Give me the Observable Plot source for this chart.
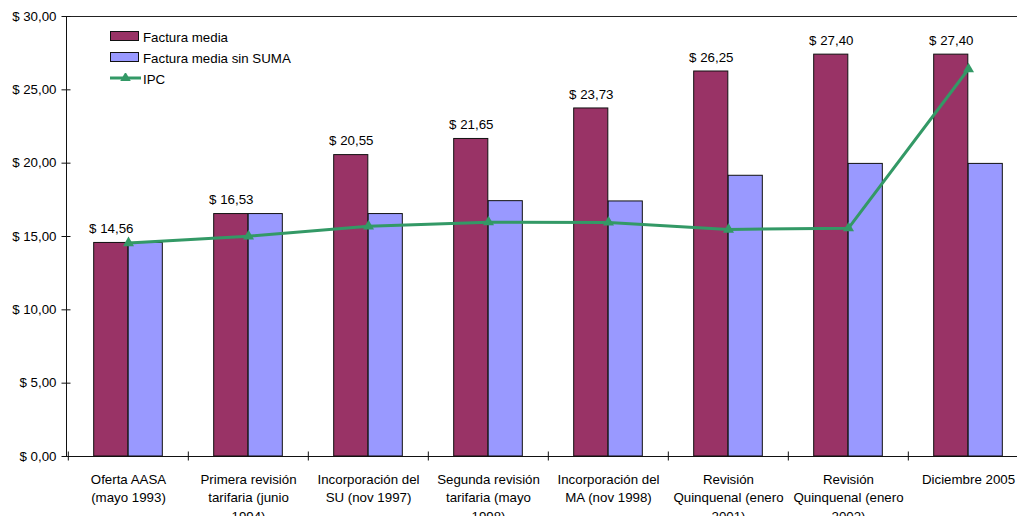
<!DOCTYPE html>
<html><head><meta charset="utf-8">
<script src="https://cdn.jsdelivr.net/npm/d3@7"></script>
<script src="https://cdn.jsdelivr.net/npm/@observablehq/plot@0.6"></script>
<style>
body{margin:0;background:#fff;font-family:"Liberation Sans",Arial,sans-serif;}
#chart{position:relative;width:1017px;height:516px;overflow:hidden}
.legend{position:absolute;left:110px;top:27px;font-size:13.3px;color:#000}
.row{display:flex;align-items:center;height:21px;white-space:nowrap}
.sw{width:27px;height:8px;border:1px solid #111;margin-right:4px;position:relative;top:-2px}
.ln{width:31px;height:10px;margin-right:2px;position:relative;top:-2px}
</style></head><body><div id="chart"></div>
<script>
const categories = [
  "Oferta AASA (mayo 1993)",
  "Primera revisión tarifaria (junio 1994)",
  "Incorporación del SU (nov 1997)",
  "Segunda revisión tarifaria (mayo 1998)",
  "Incorporación del MA (nov 1998)",
  "Revisión Quinquenal (enero 2001)",
  "Revisión Quinquenal (enero 2002)",
  "Diciembre 2005"
];
const tickLabels = [
  "Oferta AASA\n(mayo 1993)",
  "Primera revisión\ntarifaria (junio\n1994)",
  "Incorporación del\nSU (nov 1997)",
  "Segunda revisión\ntarifaria (mayo\n1998)",
  "Incorporación del\nMA (nov 1998)",
  "Revisión\nQuinquenal (enero\n2001)",
  "Revisión\nQuinquenal (enero\n2002)",
  "Diciembre 2005"
];
const facturaMedia = [14.56, 16.53, 20.55, 21.65, 23.73, 26.25, 27.40, 27.40];
const facturaSinSuma = [14.56, 16.53, 16.53, 17.41, 17.39, 19.14, 19.95, 19.95];
const ipc = [14.56, 15.02, 15.70, 15.98, 15.96, 15.48, 15.57, 26.42];
const seriesNames = ["Factura media", "Factura media sin SUMA", "IPC"];
const seriesColors = ["#993366", "#9999FF", "#339966"];
const yTicks = [0, 5, 10, 15, 20, 25, 30];

const fmt = v => "$ " + v.toFixed(2).replace(".", ",");
const red = categories.map((c, i) => ({cat: c, value: facturaMedia[i]}));
const blue = categories.map((c, i) => ({cat: c, value: facturaSinSuma[i]}));
const ipcData = categories.map((c, i) => ({cat: c, value: ipc[i]}));

const W = 1017, H = 516, mL = 66, mR = -12, mT = 16, mB = 60;
const bw = (W - mR - mL) / categories.length;
const barW = 34.5;

const chart = Plot.plot({
  width: W, height: H,
  marginLeft: mL, marginRight: mR, marginTop: mT, marginBottom: mB,
  style: {fontSize: "13.3px", fontFamily: "'Liberation Sans', Arial, sans-serif", color: "#000", background: "white"},
  x: {type: "band", domain: categories, padding: 0, label: null, axis: null},
  y: {domain: [0, 30], label: null, axis: null},
  marks: [
    Plot.ruleY([30], {stroke: "#222"}),
    Plot.barY(red, {x: "cat", y: "value", fill: seriesColors[0], stroke: "#111", strokeWidth: 1, insetLeft: bw / 2 - barW, insetRight: bw / 2}),
    Plot.barY(blue, {x: "cat", y: "value", fill: seriesColors[1], stroke: "#111", strokeWidth: 1, insetLeft: bw / 2, insetRight: bw / 2 - barW}),
    Plot.frame({anchor: "left", stroke: "#111"}),
    Plot.ruleY([0], {stroke: "#111"}),
    Plot.axisY({ticks: yTicks, tickSize: 0, tickPadding: 10, tickFormat: fmt, label: null}),
    Plot.axisY({ticks: yTicks, tickSize: 9, dx: 4.5, tickFormat: () => "", label: null, stroke: "#111"}),
    Plot.axisX({tickSize: 9, dy: -4.5, dx: -bw / 2, tickFormat: () => "", label: null, stroke: "#111"}),
    Plot.axisX({tickSize: 0, tickPadding: 15, tickFormat: d => tickLabels[categories.indexOf(d)], lineHeight: 1.36, label: null}),
    Plot.lineY(ipcData, {x: "cat", y: "value", stroke: seriesColors[2], strokeWidth: 3}),
    Plot.dot(ipcData, {x: "cat", y: "value", symbol: "triangle", fill: seriesColors[2], r: 4.1}),
    Plot.text(red, {x: "cat", y: "value", text: d => fmt(d.value), dx: -barW / 2, dy: -14, fill: "#000"})
  ]
});
const root = document.getElementById("chart");
root.appendChild(chart);

const legend = document.createElement("div");
legend.className = "legend";
seriesNames.forEach((name, i) => {
  const row = document.createElement("div");
  row.className = "row";
  if (i < 2) {
    const sw = document.createElement("div");
    sw.className = "sw";
    sw.style.background = seriesColors[i];
    row.appendChild(sw);
  } else {
    const ns = "http://www.w3.org/2000/svg";
    const s = document.createElementNS(ns, "svg");
    s.setAttribute("class", "ln");
    s.setAttribute("width", 31); s.setAttribute("height", 10);
    const l = document.createElementNS(ns, "line");
    l.setAttribute("x1", 0); l.setAttribute("x2", 31); l.setAttribute("y1", 5); l.setAttribute("y2", 5);
    l.setAttribute("stroke", seriesColors[2]); l.setAttribute("stroke-width", 3);
    s.appendChild(l);
    const t = document.createElementNS(ns, "path");
    t.setAttribute("d", d3.symbol(d3.symbolTriangle, 48)());
    t.setAttribute("transform", "translate(15.5,5)");
    t.setAttribute("fill", seriesColors[2]);
    s.appendChild(t);
    row.appendChild(s);
  }
  const tx = document.createElement("span");
  tx.textContent = name;
  row.appendChild(tx);
  legend.appendChild(row);
});
root.appendChild(legend);
</script>
</body></html>
